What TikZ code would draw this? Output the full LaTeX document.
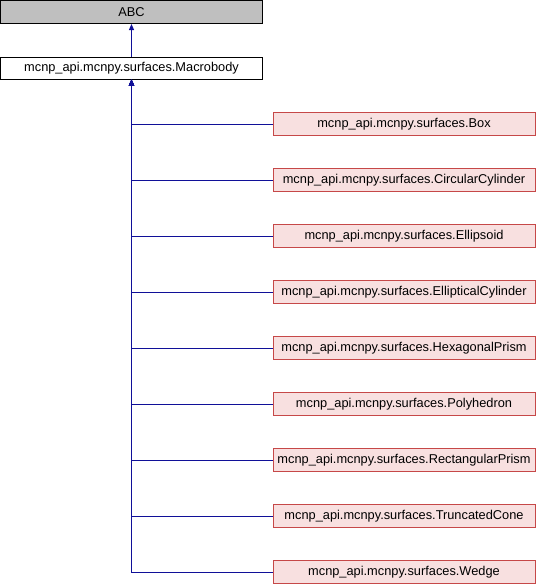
\documentclass[tikz,border=0pt]{standalone}
\usepackage{fontspec}
\setmainfont{Liberation Sans}
\usetikzlibrary{arrows.meta}
\definecolor{edgec}{RGB}{16,16,152}
\definecolor{pinkfill}{RGB}{248,224,224}
\definecolor{pinkdraw}{RGB}{198,72,72}
\definecolor{grayfill}{RGB}{191,191,191}
\begin{document}
\begin{tikzpicture}[x=1pt,y=1pt,
  every node/.style={font=\fontsize{12.8}{14}\selectfont, inner sep=0pt, anchor=center},
  base/.style={rectangle, minimum width=262pt, minimum height=23pt, line width=1pt},
  graybox/.style={base, draw=black, fill=grayfill},
  whitebox/.style={base, draw=black, fill=white, minimum height=22pt},
  childbox/.style={base, draw=pinkdraw, fill=pinkfill},
  arr/.style={draw=edgec, line width=1pt, -{Triangle[length=6pt,width=5pt]}}]
\useasboundingbox (0,0) rectangle (536,-584);
\node[graybox] (abc) at (131.5,-12) {ABC};
\node[whitebox] (macro) at (131.5,-68) {mcnp\_api.mcnpy.surfaces.Macrobody};
\node[childbox] (box) at (404,-124) {mcnp\_api.mcnpy.surfaces.Box};
\node[childbox] (cc) at (404,-180) {mcnp\_api.mcnpy.surfaces.CircularCylinder};
\node[childbox] (ell) at (404,-236) {mcnp\_api.mcnpy.surfaces.Ellipsoid};
\node[childbox] (ec) at (404,-292) {mcnp\_api.mcnpy.surfaces.EllipticalCylinder};
\node[childbox] (hp) at (404,-348) {mcnp\_api.mcnpy.surfaces.HexagonalPrism};
\node[childbox] (poly) at (404,-404) {mcnp\_api.mcnpy.surfaces.Polyhedron};
\node[childbox] (rp) at (404,-460) {mcnp\_api.mcnpy.surfaces.RectangularPrism};
\node[childbox] (tc) at (404,-516) {mcnp\_api.mcnpy.surfaces.TruncatedCone};
\node[childbox] (wedge) at (404,-572) {mcnp\_api.mcnpy.surfaces.Wedge};
\draw[arr] (macro.north) -- (abc.south);
\foreach \n in {box,cc,ell,ec,hp,poly,rp,tc,wedge}
  \draw[arr] (\n.west) -| (macro.south);
\end{tikzpicture}
\end{document}
